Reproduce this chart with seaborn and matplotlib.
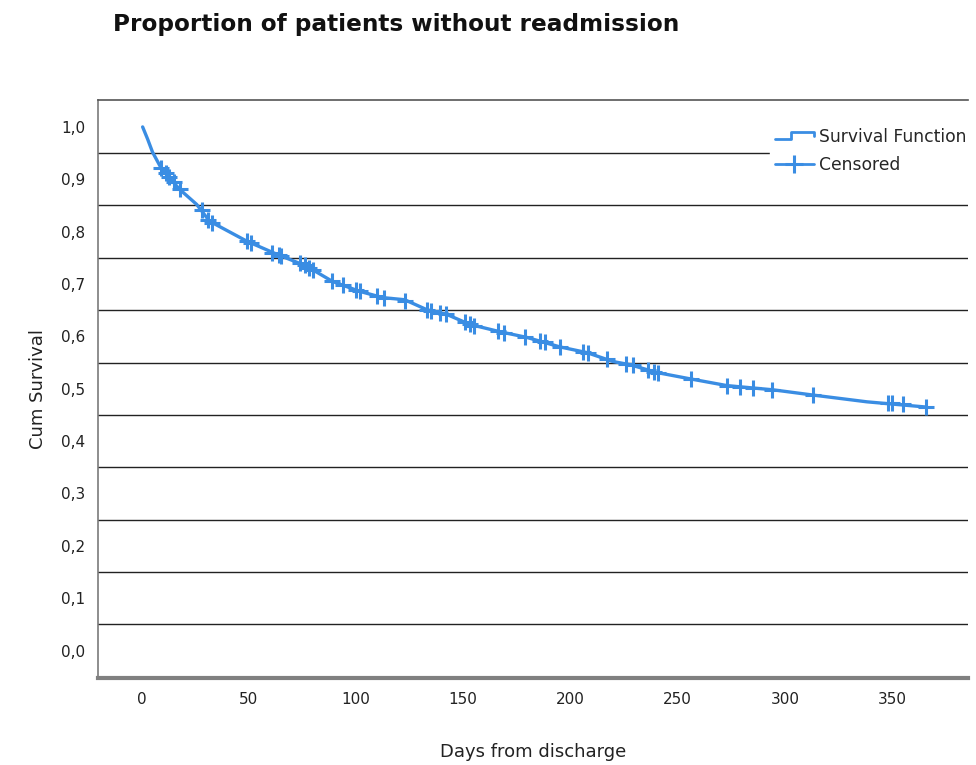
import numpy as np
import matplotlib
matplotlib.use("Agg")
import matplotlib.pyplot as plt
import seaborn as sns
from matplotlib.lines import Line2D
from matplotlib.legend_handler import HandlerBase
from matplotlib.ticker import FuncFormatter

# Kaplan-Meier curve (days, cumulative survival)
km_days = [0.5, 2.8, 5.1, 9.3, 17.7, 25.7, 31.7, 49, 63, 77, 89, 101.7, 112.5,
           122.7, 133, 142.3, 153, 167, 179.7, 195, 207.7, 219.8, 227.7, 240.3,
           255.7, 273, 294.4, 313, 338.3, 366]
km_surv = [1.000, 0.977, 0.952, 0.920, 0.881, 0.852, 0.820, 0.782, 0.757, 0.734,
           0.705, 0.686, 0.674, 0.670, 0.651, 0.642, 0.623, 0.609, 0.598, 0.580,
           0.569, 0.552, 0.546, 0.531, 0.519, 0.506, 0.498, 0.488, 0.475, 0.465]

# censored observations
cens_days = [9, 11.5, 13, 15, 18, 28, 31, 33, 49, 51, 61, 64, 65, 74, 76, 78, 80,
             89, 94, 100, 102, 110, 113, 123, 133, 135, 139, 142, 151, 153, 155,
             166, 169, 179, 186, 188, 195, 206, 208, 217, 226, 229, 236, 239, 241,
             256, 273, 279, 285, 294, 313, 348, 350, 355, 366]
cens_surv = [0.921, 0.912, 0.905, 0.895, 0.881, 0.842, 0.823, 0.816, 0.782, 0.779,
             0.760, 0.756, 0.753, 0.740, 0.736, 0.731, 0.726, 0.705, 0.698, 0.689,
             0.686, 0.677, 0.674, 0.668, 0.651, 0.649, 0.645, 0.642, 0.627, 0.623,
             0.620, 0.610, 0.607, 0.598, 0.592, 0.589, 0.580, 0.571, 0.569, 0.556,
             0.547, 0.545, 0.535, 0.532, 0.530, 0.519, 0.506, 0.503, 0.501, 0.498,
             0.488, 0.473, 0.472, 0.470, 0.465]

x_ticks = [0, 50, 100, 150, 200, 250, 300, 350]
y_ticks = [0.0, 0.1, 0.2, 0.3, 0.4, 0.5, 0.6, 0.7, 0.8, 0.9, 1.0]
grid_levels = [0.05, 0.15, 0.25, 0.35, 0.45, 0.55, 0.65, 0.75, 0.85, 0.95]

BLUE = "#3a8de3"

sns.set_style("white")
plt.rcParams["font.family"] = ["DejaVu Sans"]

fig = plt.figure(figsize=(9.76, 7.65), dpi=100)
ax = fig.add_axes([0.100, 0.114, 0.892, 0.755])

for g in grid_levels:
    ax.axhline(g, color="#222222", linewidth=1.0, zorder=1)

sns.lineplot(x=km_days, y=km_surv, ax=ax, color=BLUE, linewidth=2.4,
             estimator=None, sort=False, zorder=3)
ax.plot(cens_days, cens_surv, linestyle="none", marker="+", markersize=11,
        markeredgewidth=2.2, color=BLUE, zorder=4)

ax.set_xlim(-20.5, 385.5)
ax.set_ylim(-0.052, 1.051)
ax.set_xticks(x_ticks)
ax.set_yticks(y_ticks)
ax.yaxis.set_major_formatter(FuncFormatter(lambda v, _: f"{v:.1f}".replace(".", ",")))
ax.tick_params(axis="both", length=0, labelsize=11, colors="#222222", pad=10)
ax.tick_params(axis="y", pad=9)

ax.spines["right"].set_visible(False)
ax.spines["left"].set_color("#7a7a7a")
ax.spines["left"].set_linewidth(1.2)
ax.spines["top"].set_color("#555555")
ax.spines["top"].set_linewidth(1.2)
ax.spines["bottom"].set_color("#808080")
ax.spines["bottom"].set_linewidth(3.0)

ax.set_xlabel("Days from discharge", fontsize=13, labelpad=26, color="#222222")
ax.set_ylabel("Cum Survival", fontsize=13, labelpad=10, color="#222222")

fig.text(113 / 976, 1 - 24 / 765, "Proportion of patients without readmission",
         fontsize=16.7, fontweight="bold", va="center", ha="left", color="#111111")


class StepHandler(HandlerBase):
    def create_artists(self, legend, orig, xd, yd, w, h, fontsize, trans):
        y0 = yd + h * 0.2
        y1 = yd + h * 0.85
        xs = [xd, xd + w * 0.4, xd + w * 0.4, xd + w, xd + w]
        ys = [y0, y0, y1, y1, y0 + h * 0.25]
        ln = Line2D(xs, ys, color=BLUE, linewidth=2.0, transform=trans)
        return [ln]


h_surv = Line2D([], [], color=BLUE)
h_cens = Line2D([], [], color=BLUE, linewidth=2.0, marker="+", markersize=13,
                markeredgewidth=2.2)
leg = ax.legend([h_surv, h_cens], ["Survival Function", "Censored"],
                handler_map={h_surv: StepHandler()},
                loc="upper left", bbox_to_anchor=(0.772, 0.961),
                frameon=True, fancybox=False, framealpha=1.0, fontsize=12.3,
                handlelength=2.3, handletextpad=0.3, labelspacing=0.62,
                borderpad=0.3, borderaxespad=0.0)
leg.get_frame().set_facecolor("white")
leg.get_frame().set_edgecolor("white")
leg.set_zorder(5)

fig.savefig("out.png", dpi=100)
